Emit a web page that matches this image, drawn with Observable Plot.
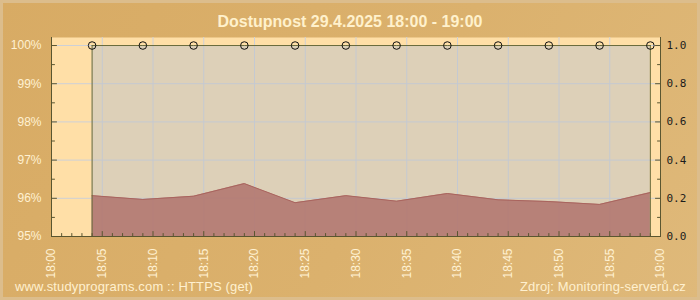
<!DOCTYPE html>
<html>
<head>
<meta charset="utf-8">
<script src="https://cdn.jsdelivr.net/npm/d3@7"></script>
<script src="https://cdn.jsdelivr.net/npm/@observablehq/plot@0.6"></script>
<style>
  html, body { margin: 0; padding: 0; }
  #wrap {
    position: relative; width: 700px; height: 300px; overflow: hidden;
    background: linear-gradient(120deg, #d8ab64 0%, #dbb16d 55%, #dfb97a 100%);
    box-shadow: inset 0 0 0 3px #dcbd8c;
    font-family: "Liberation Sans", Arial, sans-serif;
  }
  #title {
    position: absolute; left: 0; top: 13px; width: 700px; text-align: center;
    font-size: 16px; font-weight: bold; line-height: 18px; color: #fff1cc; white-space: nowrap;
  }
  .foot { position: absolute; top: 279px; font-size: 13px; line-height: 15px; color: #fff0cf; white-space: nowrap; letter-spacing: 0.15px; }
  #footL { left: 15px; }
  #footR { right: 14px; }
  #chart { position: absolute; left: 0; top: 0; }
</style>
</head>
<body>
<div id="wrap">
  <div id="chart"></div>
  <div id="title"></div>
  <div id="footL" class="foot"></div>
  <div id="footR" class="foot"></div>
</div>
<script>
// ---- data ----
const dayParts = [2025, 3, 29];            // year, month index (April), day
const sampleMinutes = [4, 9, 14, 19, 24, 29, 34, 39, 44, 49, 54, 59]; // minutes after 18:00
const availabilityPct = [100, 100, 100, 100, 100, 100, 100, 100, 100, 100, 100, 100];
const responseSec = [0.214, 0.194, 0.211, 0.277, 0.177, 0.214, 0.185, 0.225, 0.192, 0.183, 0.168, 0.230];
const leftTickValues = [95, 96, 97, 98, 99, 100];
const leftTickLabels = ["95%", "96%", "97%", "98%", "99%", "100%"];
const rightTickLabels = ["0.0", "0.2", "0.4", "0.6", "0.8", "1.0"];
const xTickLabels = ["18:00","18:05","18:10","18:15","18:20","18:25","18:30","18:35","18:40","18:45","18:50","18:55","19:00"];
const titleText = "Dostupnost 29.4.2025 18:00 - 19:00";
const footerLeft = "www.studyprograms.com :: HTTPS (get)";
const footerRight = "Zdroj: Monitoring-serverů.cz";

// ---- derived ----
const at = (h, m) => new Date(Date.UTC(dayParts[0], dayParts[1], dayParts[2], h, m));
const xTicks = xTickLabels.map(s => { const [h, m] = s.split(":").map(Number); return at(h, m); });
const xStart = xTicks[0], xEnd = xTicks[xTicks.length - 1];
const rows = sampleMinutes.map((m, i) => ({
  t: at(18, m),
  avail: availabilityPct[i],
  // right axis 0..1 maps onto left 95..100 %
  resp: 95 + 5 * responseSec[i]
}));
const minuteTicks = d3.utcMinute.range(xStart, new Date(+xEnd + 1));
const majorMinute = minuteTicks.filter(d => d.getUTCMinutes() % 5 === 0);
const minorMinute = minuteTicks.filter(d => d.getUTCMinutes() % 5 !== 0);
const yMinor = leftTickValues.slice(0, -1).map(v => v + 0.5);

const axisCol = "#5a5630";
const cream = "#fff1d2";
// plain straight tick shape for vectors (points "up" before rotation)
const tickShape = { draw(context, l) { context.moveTo(0, 0); context.lineTo(0, -l); } };
const tickOpts = { shape: tickShape, anchor: "start", stroke: axisCol, strokeWidth: 1 };

const chart = Plot.plot({
  width: 700, height: 300,
  marginLeft: 51, marginRight: 40, marginTop: 37, marginBottom: 64,
  style: { background: "transparent", fontFamily: "Liberation Sans, Arial, sans-serif", fontSize: "12px", overflow: "visible" },
  x: { type: "utc", domain: [xStart, xEnd], axis: null, label: null },
  y: { domain: [95, 100.21], axis: null, label: null },
  marks: [
    Plot.frame({ fill: "#ffdfa7", stroke: null }),
    Plot.gridY(leftTickValues, { stroke: "#cdd0d8", strokeOpacity: 1 }),
    Plot.gridX(majorMinute, { stroke: "#cdd0d8", strokeOpacity: 1 }),
    Plot.areaY(rows, { x: "t", y1: 95, y2: "avail", fill: "#bcc2ca", fillOpacity: 0.5 }),
    Plot.areaY(rows, { x: "t", y1: 95, y2: "resp", fill: "#b37972", fillOpacity: 0.92 }),
    Plot.line(rows, { x: "t", y: "resp", stroke: "#a9645e", strokeWidth: 1 }),
    Plot.line(rows, { x: "t", y: "avail", stroke: "#6a6b3a", strokeWidth: 1 }),
    Plot.ruleX([rows[0], rows[rows.length - 1]], { x: "t", y1: 95, y2: "avail", stroke: "#6a6b3a", strokeWidth: 1 }),
    // axis lines
    Plot.ruleX([xStart, xEnd], { stroke: axisCol, strokeWidth: 1 }),
    Plot.ruleY([95], { stroke: axisCol, strokeWidth: 1 }),
    // left ticks (inward)
    Plot.vector(leftTickValues, { x: () => xStart, y: d => d, length: 5, rotate: 90, ...tickOpts }),
    Plot.vector(yMinor, { x: () => xStart, y: d => d, length: 3, rotate: 90, ...tickOpts }),
    // right ticks (inward)
    Plot.vector(leftTickValues, { x: () => xEnd, y: d => d, length: 5, rotate: -90, ...tickOpts }),
    Plot.vector(yMinor, { x: () => xEnd, y: d => d, length: 3, rotate: -90, ...tickOpts }),
    // bottom ticks (inward)
    Plot.vector(majorMinute, { x: d => d, y: () => 95, length: 5, rotate: 0, ...tickOpts }),
    Plot.vector(minorMinute, { x: d => d, y: () => 95, length: 3, rotate: 0, ...tickOpts }),
    // availability points
    Plot.dot(rows, { x: "t", y: "avail", r: 3.8, stroke: "#111", strokeWidth: 1, fill: "none" }),
    // labels
    Plot.axisY(leftTickValues, { anchor: "left", label: null, tickSize: 0, tickPadding: 10, tickFormat: d => leftTickLabels[leftTickValues.indexOf(d)], fill: cream, fontSize: 12 }),
    Plot.axisY(leftTickValues, { anchor: "right", label: null, tickSize: 0, tickPadding: 6, tickFormat: d => rightTickLabels[leftTickValues.indexOf(d)], fill: "#1c1c1c", fontSize: 11, fontFamily: "DejaVu Sans Mono, monospace" }),
    Plot.axisX(xTicks, { anchor: "bottom", label: null, tickSize: 0, tickPadding: 12, tickRotate: -90, tickFormat: d => xTickLabels[xTicks.findIndex(v => +v === +d)], fill: cream, fontSize: 12 })
  ]
});
document.getElementById("chart").appendChild(chart);
document.getElementById("title").textContent = titleText;
document.getElementById("footL").textContent = footerLeft;
document.getElementById("footR").textContent = footerRight;
</script>
</body>
</html>
